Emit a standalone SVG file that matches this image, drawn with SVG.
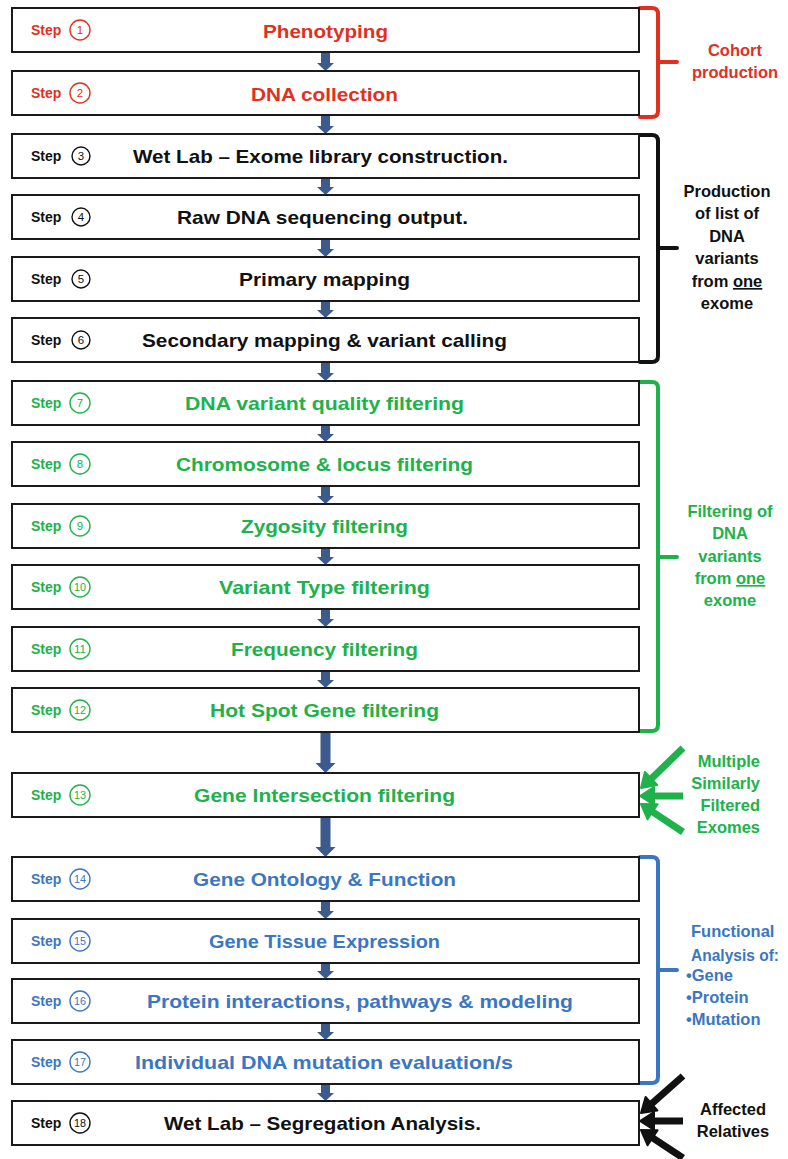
<svg xmlns="http://www.w3.org/2000/svg" width="788" height="1159" viewBox="0 0 788 1159">
<style>
.box{fill:#fff;stroke:#1a1a1a;stroke-width:2}
.t{font-family:"Liberation Sans",Arial,sans-serif;font-weight:bold;font-size:19px}
.s{font-family:"Liberation Sans",Arial,sans-serif;font-weight:bold;font-size:14px}
.n{font-family:"Liberation Sans",Arial,sans-serif;font-size:11.5px;text-anchor:middle}
.side{font-family:"Liberation Sans",Arial,sans-serif;font-weight:bold;font-size:16.5px}
.c{fill:none;stroke-width:1.4}
.red{fill:#E2301F}.blk{fill:#111}.grn{fill:#20B24A}.blu{fill:#3B76C2}
.cr{stroke:#E2301F}.ck{stroke:#111}.cg{stroke:#20B24A}.cb{stroke:#3B76C2}
.arr{fill:#3D5A8C}
.br{fill:none;stroke-width:4;stroke-linecap:round;stroke-linejoin:round}
</style>
<g id="connectors">
<polygon class="arr" points="321,52 330,52 330,63 334,63 325.5,71 317,63 321,63"/>
<polygon class="arr" points="321,115 330,115 330,126 334,126 325.5,134 317,126 321,126"/>
<polygon class="arr" points="321,178 330,178 330,187 334,187 325.5,195 317,187 321,187"/>
<polygon class="arr" points="321,239 330,239 330,249 334,249 325.5,257 317,249 321,249"/>
<polygon class="arr" points="321,301 330,301 330,310 334,310 325.5,318 317,310 321,310"/>
<polygon class="arr" points="321,362 330,362 330,373 334,373 325.5,381 317,373 321,373"/>
<polygon class="arr" points="321,425 330,425 330,434 334,434 325.5,442 317,434 321,434"/>
<polygon class="arr" points="321,486 330,486 330,496 334,496 325.5,504 317,496 321,496"/>
<polygon class="arr" points="321,548 330,548 330,557 334,557 325.5,565 317,557 321,557"/>
<polygon class="arr" points="321,609 330,609 330,619 334,619 325.5,627 317,619 321,619"/>
<polygon class="arr" points="321,671 330,671 330,680 334,680 325.5,688 317,680 321,680"/>
<polygon class="arr" points="320.5,732 330.5,732 330.5,763 335.5,763 325.5,773 315.5,763 320.5,763"/>
<polygon class="arr" points="320.5,817 330.5,817 330.5,847 335.5,847 325.5,857 315.5,847 320.5,847"/>
<polygon class="arr" points="321,901 330,901 330,911 334,911 325.5,919 317,911 321,911"/>
<polygon class="arr" points="321,963 330,963 330,971 334,971 325.5,979 317,971 321,971"/>
<polygon class="arr" points="321,1023 330,1023 330,1032 334,1032 325.5,1040 317,1032 321,1032"/>
<polygon class="arr" points="321,1084 330,1084 330,1093 334,1093 325.5,1101 317,1093 321,1093"/>
</g>
<g id="brackets">
<path class="br" stroke="#E2301F" d="M640,8 H652 Q658,8 658,14 V111 Q658,117 652,117 H640 M658,62 H677"/>
<path class="br" stroke="#111" d="M640,135 H652 Q658,135 658,141 V356 Q658,362 652,362 H640 M658,248 H677"/>
<path class="br" stroke="#20B24A" d="M640,382 H652 Q658,382 658,388 V725 Q658,731 652,731 H640 M658,557 H677"/>
<path class="br" stroke="#3B76C2" d="M640,857 H652 Q658,857 658,863 V1077 Q658,1083 652,1083 H640 M658,970 H677"/>
</g>
<g id="input-arrows">
<g stroke="#20B24A" stroke-width="7" fill="#20B24A">
<line x1="683" y1="748" x2="651" y2="779"/>
<polygon points="641,788 657.3,784.9 644.9,771.9" stroke-width="2" stroke-linejoin="round"/>
<line x1="683" y1="796" x2="654" y2="796"/>
<polygon points="640,796 654,787 654,805" stroke-width="2" stroke-linejoin="round"/>
<line x1="683" y1="832" x2="652.6" y2="811.8"/>
<polygon points="641,804 657.6,804.3 647.6,819.3" stroke-width="2" stroke-linejoin="round"/>
</g>
<g stroke="#111" stroke-width="7" fill="#111">
<line x1="683" y1="1076" x2="651.5" y2="1103.8"/>
<polygon points="641,1113 657.4,1110.5 645.6,1097" stroke-width="2" stroke-linejoin="round"/>
<line x1="683" y1="1121" x2="654" y2="1121"/>
<polygon points="640,1121 654,1112 654,1130" stroke-width="2" stroke-linejoin="round"/>
<line x1="683" y1="1158" x2="652.6" y2="1137.8"/>
<polygon points="641,1130 657.6,1130.3 647.6,1145.3" stroke-width="2" stroke-linejoin="round"/>
</g>
</g>
<g id="step1"><rect class="box" x="12" y="8" width="627" height="44"/><text class="s red" x="31" y="35">Step</text><circle class="c cr" cx="80" cy="30" r="10"/><text class="n red" x="80" y="34">1</text><text class="t red" x="263" y="38" textLength="125" lengthAdjust="spacingAndGlyphs">Phenotyping</text></g>
<g id="step2"><rect class="box" x="12" y="71" width="627" height="44"/><text class="s red" x="31" y="98">Step</text><circle class="c cr" cx="80" cy="93" r="10"/><text class="n red" x="80" y="97">2</text><text class="t red" x="251" y="101" textLength="147" lengthAdjust="spacingAndGlyphs">DNA collection</text></g>
<g id="step3"><rect class="box" x="12" y="134" width="627" height="44"/><text class="s blk" x="31" y="161">Step</text><circle class="c ck" cx="81" cy="156" r="9"/><text class="n blk" x="81" y="160">3</text><text class="t blk" x="133" y="163" textLength="375" lengthAdjust="spacingAndGlyphs">Wet Lab – Exome library construction.</text></g>
<g id="step4"><rect class="box" x="12" y="195" width="627" height="44"/><text class="s blk" x="31" y="222">Step</text><circle class="c ck" cx="81" cy="217" r="9"/><text class="n blk" x="81" y="221">4</text><text class="t blk" x="177" y="224" textLength="291" lengthAdjust="spacingAndGlyphs">Raw DNA sequencing output.</text></g>
<g id="step5"><rect class="box" x="12" y="257" width="627" height="44"/><text class="s blk" x="31" y="284">Step</text><circle class="c ck" cx="81" cy="279" r="9"/><text class="n blk" x="81" y="283">5</text><text class="t blk" x="239" y="286" textLength="171" lengthAdjust="spacingAndGlyphs">Primary mapping</text></g>
<g id="step6"><rect class="box" x="12" y="318" width="627" height="44"/><text class="s blk" x="31" y="345">Step</text><circle class="c ck" cx="81" cy="340" r="9"/><text class="n blk" x="81" y="344">6</text><text class="t blk" x="142" y="347" textLength="365" lengthAdjust="spacingAndGlyphs">Secondary mapping &amp; variant calling</text></g>
<g id="step7"><rect class="box" x="12" y="381" width="627" height="44"/><text class="s grn" x="31" y="408">Step</text><circle class="c cg" cx="80" cy="403" r="10"/><text class="n grn" x="80" y="407">7</text><text class="t grn" x="185" y="410" textLength="279" lengthAdjust="spacingAndGlyphs">DNA variant quality filtering</text></g>
<g id="step8"><rect class="box" x="12" y="442" width="627" height="44"/><text class="s grn" x="31" y="469">Step</text><circle class="c cg" cx="80" cy="464" r="10"/><text class="n grn" x="80" y="468">8</text><text class="t grn" x="176" y="471" textLength="297" lengthAdjust="spacingAndGlyphs">Chromosome &amp; locus filtering</text></g>
<g id="step9"><rect class="box" x="12" y="504" width="627" height="44"/><text class="s grn" x="31" y="531">Step</text><circle class="c cg" cx="80" cy="526" r="10"/><text class="n grn" x="80" y="530">9</text><text class="t grn" x="241" y="533" textLength="167" lengthAdjust="spacingAndGlyphs">Zygosity filtering</text></g>
<g id="step10"><rect class="box" x="12" y="565" width="627" height="44"/><text class="s grn" x="31" y="592">Step</text><circle class="c cg" cx="80" cy="587" r="10"/><text class="n grn" x="80" y="591" textLength="12" lengthAdjust="spacingAndGlyphs">10</text><text class="t grn" x="219" y="594" textLength="211" lengthAdjust="spacingAndGlyphs">Variant Type filtering</text></g>
<g id="step11"><rect class="box" x="12" y="627" width="627" height="44"/><text class="s grn" x="31" y="654">Step</text><circle class="c cg" cx="80" cy="649" r="10"/><text class="n grn" x="80" y="653" textLength="12" lengthAdjust="spacingAndGlyphs">11</text><text class="t grn" x="231" y="656" textLength="187" lengthAdjust="spacingAndGlyphs">Frequency filtering</text></g>
<g id="step12"><rect class="box" x="12" y="688" width="627" height="44"/><text class="s grn" x="31" y="715">Step</text><circle class="c cg" cx="80" cy="710" r="10"/><text class="n grn" x="80" y="714" textLength="12" lengthAdjust="spacingAndGlyphs">12</text><text class="t grn" x="210" y="717" textLength="229" lengthAdjust="spacingAndGlyphs">Hot Spot Gene filtering</text></g>
<g id="step13"><rect class="box" x="12" y="773" width="627" height="44"/><text class="s grn" x="31" y="800">Step</text><circle class="c cg" cx="80" cy="795" r="10"/><text class="n grn" x="80" y="799" textLength="12" lengthAdjust="spacingAndGlyphs">13</text><text class="t grn" x="194" y="802" textLength="261" lengthAdjust="spacingAndGlyphs">Gene Intersection filtering</text></g>
<g id="step14"><rect class="box" x="12" y="857" width="627" height="44"/><text class="s blu" x="31" y="884">Step</text><circle class="c cb" cx="80" cy="879" r="10"/><text class="n blu" x="80" y="883" textLength="12" lengthAdjust="spacingAndGlyphs">14</text><text class="t blu" x="193" y="886" textLength="263" lengthAdjust="spacingAndGlyphs">Gene Ontology &amp; Function</text></g>
<g id="step15"><rect class="box" x="12" y="919" width="627" height="44"/><text class="s blu" x="31" y="946">Step</text><circle class="c cb" cx="80" cy="941" r="10"/><text class="n blu" x="80" y="945" textLength="12" lengthAdjust="spacingAndGlyphs">15</text><text class="t blu" x="209" y="948" textLength="231" lengthAdjust="spacingAndGlyphs">Gene Tissue Expression</text></g>
<g id="step16"><rect class="box" x="12" y="979" width="627" height="44"/><text class="s blu" x="31" y="1006">Step</text><circle class="c cb" cx="80" cy="1001" r="10"/><text class="n blu" x="80" y="1005" textLength="12" lengthAdjust="spacingAndGlyphs">16</text><text class="t blu" x="147" y="1008" textLength="426" lengthAdjust="spacingAndGlyphs">Protein interactions, pathways &amp; modeling</text></g>
<g id="step17"><rect class="box" x="12" y="1040" width="627" height="44"/><text class="s blu" x="31" y="1067">Step</text><circle class="c cb" cx="80" cy="1062" r="10"/><text class="n blu" x="80" y="1066" textLength="12" lengthAdjust="spacingAndGlyphs">17</text><text class="t blu" x="135" y="1069" textLength="378" lengthAdjust="spacingAndGlyphs">Individual DNA mutation evaluation/s</text></g>
<g id="step18"><rect class="box" x="12" y="1101" width="627" height="44"/><text class="s blk" x="31" y="1128">Step</text><circle class="c ck" cx="80" cy="1123" r="10"/><text class="n blk" x="80" y="1127" textLength="12" lengthAdjust="spacingAndGlyphs">18</text><text class="t blk" x="164" y="1130" textLength="317" lengthAdjust="spacingAndGlyphs">Wet Lab – Segregation Analysis.</text></g>
<g id="labels">
<text class="side red" text-anchor="middle"><tspan x="735" y="56">Cohort</tspan><tspan x="735" y="78">production</tspan></text>
<text class="side blk" text-anchor="middle"><tspan x="727" y="197">Production</tspan><tspan x="727" y="219">of list of</tspan><tspan x="727" y="242">DNA</tspan><tspan x="727" y="264">variants</tspan><tspan x="727" y="287">from <tspan text-decoration="underline">one</tspan></tspan><tspan x="727" y="309">exome</tspan></text>
<text class="side grn" text-anchor="middle"><tspan x="730" y="517">Filtering of</tspan><tspan x="730" y="539">DNA</tspan><tspan x="730" y="562">variants</tspan><tspan x="730" y="584">from <tspan text-decoration="underline">one</tspan></tspan><tspan x="730" y="606">exome</tspan></text>
<text class="side grn" text-anchor="end"><tspan x="760" y="767">Multiple</tspan><tspan x="760" y="789">Similarly</tspan><tspan x="760" y="811">Filtered</tspan><tspan x="760" y="833">Exomes</tspan></text>
<text class="side blu" x="691" y="937">Functional</text>
<text class="side blu" x="691" y="961" textLength="88" lengthAdjust="spacingAndGlyphs">Analysis of:</text>
<text class="side blu"><tspan x="686" y="981">•Gene</tspan><tspan x="686" y="1003">•Protein</tspan><tspan x="686" y="1025">•Mutation</tspan></text>
<text class="side blk" text-anchor="middle"><tspan x="733" y="1115">Affected</tspan><tspan x="733" y="1137">Relatives</tspan></text>
</g>
</svg>
